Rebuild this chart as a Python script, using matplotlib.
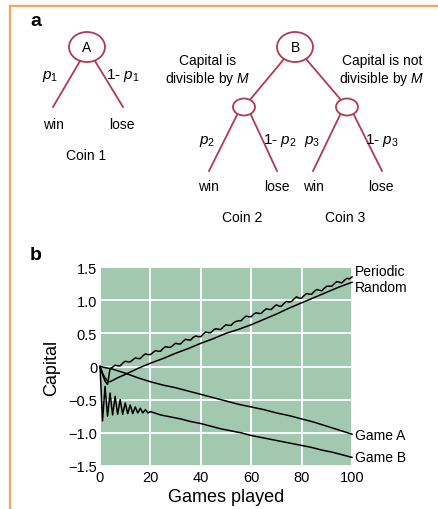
import numpy as np
import matplotlib
matplotlib.use("Agg")
import matplotlib.pyplot as plt
from matplotlib.patches import Ellipse

plt.rcParams['font.family'] = ['Liberation Sans', 'DejaVu Sans']
plt.rcParams['mathtext.fontset'] = 'custom'
plt.rcParams['mathtext.rm'] = 'Liberation Sans'
plt.rcParams['mathtext.it'] = 'Liberation Sans:italic'

# ---- data (panel b) ----
games_periodic = list(range(0, 101))
periodic = [0.00, -0.12, -0.22, -0.27, -0.03, -0.01, 0.02, 0.01, 0.01, 0.05,
            0.08, 0.07, 0.07, 0.10, 0.13, 0.12, 0.12, 0.16, 0.19, 0.18,
            0.18, 0.21, 0.24, 0.23, 0.23, 0.27, 0.30, 0.29, 0.29, 0.32,
            0.35, 0.34, 0.34, 0.38, 0.41, 0.40, 0.40, 0.44, 0.46, 0.45,
            0.45, 0.49, 0.52, 0.51, 0.51, 0.55, 0.57, 0.56, 0.56, 0.60,
            0.63, 0.62, 0.62, 0.66, 0.68, 0.69, 0.69, 0.73, 0.76, 0.75,
            0.75, 0.79, 0.81, 0.80, 0.80, 0.84, 0.87, 0.86, 0.86, 0.90,
            0.93, 0.91, 0.91, 0.95, 0.98, 0.97, 0.98, 1.02, 1.05, 1.03,
            1.03, 1.07, 1.10, 1.09, 1.09, 1.13, 1.16, 1.15, 1.14, 1.18,
            1.21, 1.21, 1.21, 1.25, 1.28, 1.27, 1.26, 1.30, 1.33, 1.32,
            1.35]

games_random = [0, 1, 2, 3, 4, 5, 7, 10, 15, 20, 25, 30, 35, 40, 45, 50,
                55, 60, 65, 70, 75, 80, 85, 90, 95, 100]
random_ = [0.00, -0.10, -0.17, -0.22, -0.23, -0.21, -0.17, -0.12, -0.03, 0.05,
           0.12, 0.20, 0.27, 0.35, 0.42, 0.50, 0.56, 0.63, 0.71, 0.79,
           0.88, 0.96, 1.04, 1.12, 1.20, 1.27]

games_a = [0, 5, 10, 15, 20, 25, 30, 35, 40, 45, 50, 55, 60, 65, 70, 75,
           80, 85, 90, 95, 100]
game_a = [0.00, -0.04, -0.10, -0.17, -0.23, -0.28, -0.32, -0.37, -0.42, -0.47,
          -0.52, -0.57, -0.61, -0.65, -0.70, -0.74, -0.79, -0.84, -0.90, -0.96,
          -1.02]

games_b = list(range(0, 21)) + [24, 28, 32, 36, 40, 44, 48, 52, 56, 60,
                                64, 68, 72, 76, 80, 84, 88, 92, 96, 100]
game_b = [0.00, -0.82, -0.30, -0.75, -0.40, -0.73, -0.45, -0.72, -0.50, -0.72,
          -0.55, -0.71, -0.58, -0.71, -0.61, -0.70, -0.63, -0.70, -0.65, -0.70,
          -0.68,
          -0.73, -0.76, -0.79, -0.83, -0.86, -0.90, -0.94, -0.97, -1.00, -1.04,
          -1.07, -1.10, -1.13, -1.16, -1.19, -1.22, -1.26, -1.29, -1.33, -1.37]

x_ticks = [0, 20, 40, 60, 80, 100]
y_ticks = [-1.5, -1.0, -0.5, 0, 0.5, 1.0, 1.5]
y_tick_labels = ['\u22121.5', '\u22121.0', '\u22120.5', '0', '0.5', '1.0', '1.5']

RED = '#b03a52'
ORANGE = '#f5a55c'
GREEN = '#a2c8b0'

fig = plt.figure(figsize=(4.38, 5.10), dpi=100)

# ---- panel a: drawn in pixel coordinates ----
ax0 = fig.add_axes([0, 0, 1, 1])
ax0.set_xlim(0, 438)
ax0.set_ylim(510, 0)
ax0.axis('off')

ax0.plot([10, 438], [7, 7], color=ORANGE, lw=1.6)
ax0.plot([10, 10], [7, 510], color=ORANGE, lw=1.6)

ax0.text(30, 21, 'a', fontsize=14, fontweight='heavy', ha='left', va='center')
ax0.text(30, 256, 'b', fontsize=14, fontweight='heavy', ha='left', va='center')

def node(x, y, w, h, label=None):
    ax0.add_patch(Ellipse((x, y), w, h, facecolor='white', edgecolor=RED, lw=1.3, zorder=3))
    if label:
        ax0.text(x, y, label, fontsize=10, ha='center', va='center', zorder=4)

def branch(x1, y1, x2, y2):
    ax0.plot([x1, x2], [y1, y2], color=RED, lw=1.3, zorder=2)

PS = 11  # size of the p labels

# coin 1
node(87, 48, 36, 30, 'A')
branch(80, 62, 53, 108)
branch(95, 62, 123, 108)
ax0.text(50, 77, '$p_1$', fontsize=PS, ha='center', va='center')
ax0.text(123, 76, '1- $p_1$', fontsize=PS, ha='center', va='center')
ax0.text(53, 125, 'win', fontsize=10, ha='center', va='center')
ax0.text(122, 125, 'lose', fontsize=10, ha='center', va='center')
ax0.text(86, 156, 'Coin 1', fontsize=10, ha='center', va='center')

# game B
node(295, 48, 36, 30, 'B')
branch(284, 60, 244, 108)
branch(306, 60, 347, 108)
node(244, 108, 22, 17)
node(347, 108, 22, 17)
ax0.text(208, 71, 'Capital is\ndivisible by $M$', fontsize=10, ha='center', va='center',
         linespacing=1.1)
ax0.text(382, 71, 'Capital is not\ndivisible by $M$', fontsize=10, ha='center', va='center',
         linespacing=1.1)
branch(237, 116, 209, 172)
branch(251, 116, 277, 172)
branch(340, 116, 313, 172)
branch(354, 116, 382, 172)
ax0.text(207, 142, '$p_2$', fontsize=PS, ha='center', va='center')
ax0.text(280, 141, '1- $p_2$', fontsize=PS, ha='center', va='center')
ax0.text(312, 142, '$p_3$', fontsize=PS, ha='center', va='center')
ax0.text(382, 141, '1- $p_3$', fontsize=PS, ha='center', va='center')
ax0.text(208, 187, 'win', fontsize=10, ha='center', va='center')
ax0.text(277, 187, 'lose', fontsize=10, ha='center', va='center')
ax0.text(313, 187, 'win', fontsize=10, ha='center', va='center')
ax0.text(381, 187, 'lose', fontsize=10, ha='center', va='center')
ax0.text(242, 218, 'Coin 2', fontsize=10, ha='center', va='center')
ax0.text(345, 218, 'Coin 3', fontsize=10, ha='center', va='center')

# ---- panel b ----
ax = fig.add_axes([100 / 438, 43 / 510, 252 / 438, 199 / 510])
ax.set_facecolor(GREEN)
for s in ax.spines.values():
    s.set_visible(False)
ax.set_xlim(0, 100)
ax.set_ylim(-1.5, 1.5)
ax.set_xticks(x_ticks)
ax.set_yticks(y_ticks)
ax.set_yticklabels(y_tick_labels)
ax.tick_params(length=0, labelsize=10.5, pad=2)
ax.tick_params(axis='x', pad=3)
ax.grid(True, color='white', lw=1.3)
ax.set_axisbelow(True)

for gx, gy in [(games_periodic, periodic), (games_random, random_),
               (games_a, game_a), (games_b, game_b)]:
    ax.plot(gx, gy, color='black', lw=1.1, clip_on=False)

ax.text(101, 1.44, 'Periodic', fontsize=10, ha='left', va='center')
ax.text(101, 1.20, 'Random', fontsize=10, ha='left', va='center')
ax.text(101, -1.03, 'Game A', fontsize=10, ha='left', va='center')
ax.text(101, -1.37, 'Game B', fontsize=10, ha='left', va='center')

ax.set_ylabel('Capital', fontsize=13, labelpad=6)
ax.set_xlabel('Games played', fontsize=13, labelpad=3)

fig.savefig('out.png', dpi=100)
